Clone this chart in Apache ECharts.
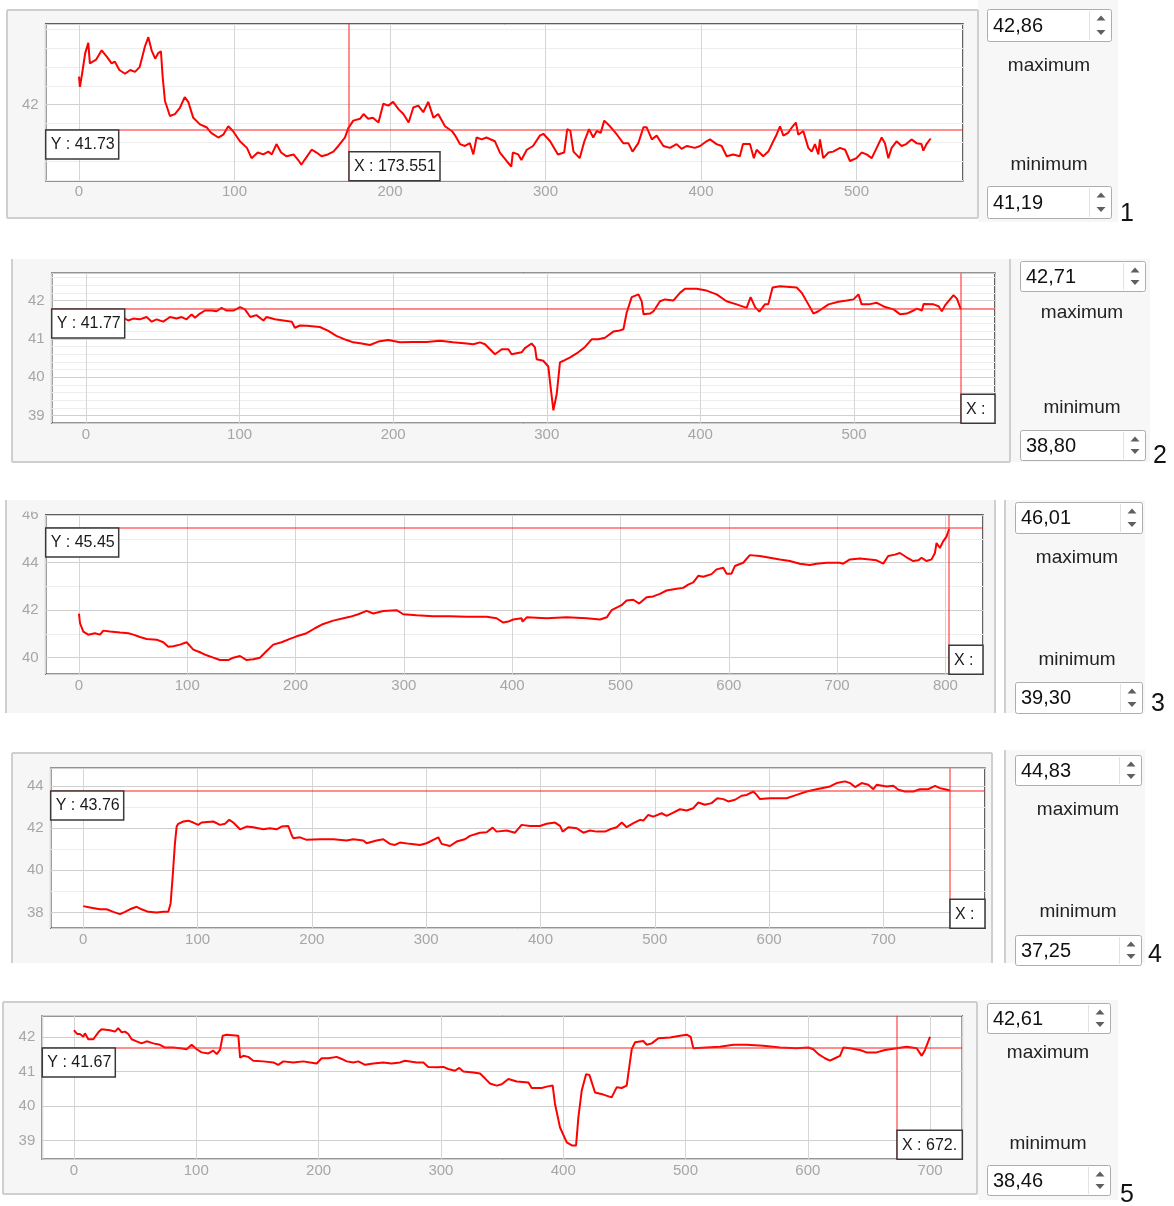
<!DOCTYPE html>
<html>
<head>
<meta charset="utf-8">
<title>Trace panels</title>
<script src="https://cdn.jsdelivr.net/npm/echarts@6/dist/echarts.min.js"></script>
<style>
html, body { margin: 0; padding: 0; background: #fff; }
#main { width: 1174px; height: 1206px; }
</style>
</head>
<body>
<div id="main"></div>
<script>
// traces, [x, value]
const trace1 = [[0,42.30],[0.6,42.19],[2,42.33],[4,42.55],[6,42.66],[7,42.44],[11,42.48],[14.6,42.58],[18,42.51],[21,42.44],[23,42.46],[26,42.37],[29.6,42.33],[33,42.37],[36,42.35],[39,42.40],[42.4,42.62],[44.6,42.72],[46.7,42.58],[49,42.49],[51,42.55],[52.7,42.57],[53.8,42.30],[55.3,42.04],[58.5,41.88],[61.7,41.90],[65,41.97],[68,42.08],[70.3,42.03],[73.5,41.86],[77.8,41.79],[82,41.76],[85,41.70],[89.6,41.65],[92.8,41.68],[96,41.77],[99,41.72],[103.5,41.61],[108,41.54],[111,41.43],[115,41.49],[118.5,41.47],[121.8,41.50],[124,41.47],[127,41.58],[130,41.49],[133.5,41.45],[138,41.47],[141,41.41],[143,41.36],[145,41.41],[149.6,41.52],[152.8,41.49],[156,41.45],[160,41.47],[163.6,41.50],[166.8,41.56],[171,41.65],[173.2,41.75],[176.4,41.83],[180.7,41.85],[183,41.90],[186,41.85],[189,41.86],[192.6,41.81],[195.7,42.01],[199,41.99],[202,42.03],[205.6,41.95],[208.6,41.90],[212,41.81],[215,41.97],[218.2,41.99],[221.4,41.92],[224.6,42.03],[228,41.86],[231,41.90],[235.4,41.77],[239.7,41.72],[242,41.67],[245,41.58],[248.2,41.56],[251.4,41.59],[253.6,41.47],[255.7,41.65],[259,41.63],[262,41.65],[267.5,41.61],[270.7,41.49],[275,41.40],[278,41.34],[279,41.49],[282.5,41.47],[284.5,41.41],[288,41.52],[292,41.56],[296.4,41.67],[298.6,41.69],[303,41.61],[308,41.47],[312,41.49],[314,41.74],[316,41.72],[318,41.50],[322,41.43],[325,41.61],[328,41.74],[330.7,41.65],[333,41.72],[335.5,41.70],[337.8,41.83],[341.5,41.77],[346,41.68],[350,41.59],[353.3,41.59],[356,41.50],[359.7,41.59],[363,41.76],[365,41.76],[368.4,41.63],[371.5,41.67],[375.8,41.56],[380,41.54],[384.3,41.58],[387.5,41.53],[391,41.56],[396,41.54],[399.4,41.56],[403.6,41.61],[405.8,41.63],[410,41.58],[413.3,41.56],[416.5,41.45],[420.7,41.47],[425,41.45],[427,41.58],[431.5,41.58],[434,41.43],[435.8,41.52],[440,41.45],[443.3,41.50],[446.5,41.61],[448.6,41.68],[450.8,41.77],[453,41.67],[456,41.70],[459,41.77],[461,41.81],[462.6,41.68],[465.8,41.72],[469,41.54],[471.2,41.50],[473.3,41.58],[475.5,41.47],[476.5,41.63],[478.6,41.43],[482,41.49],[485,41.50],[489.4,41.54],[492.7,41.52],[495.8,41.40],[500,41.43],[503.3,41.49],[506.5,41.47],[509.8,41.43],[513,41.54],[516.2,41.65],[518.3,41.59],[520.5,41.43],[522.6,41.54],[525.8,41.61],[529,41.56],[532,41.58],[535.4,41.63],[538.6,41.59],[541.8,41.58],[543,41.51],[545,41.58],[547.7,41.64]];

const trace2 = [[0,41.62],[3.7,41.64],[9,41.60],[13.5,41.55],[15.6,41.62],[20,41.51],[23,41.59],[27.5,41.48],[30.8,41.53],[35,41.51],[39.5,41.57],[42.8,41.45],[46,41.51],[50.3,41.45],[54.7,41.57],[59,41.53],[62.3,41.57],[65.5,41.51],[68.8,41.64],[71,41.55],[74.2,41.66],[77.5,41.74],[81.8,41.74],[85,41.72],[88.3,41.81],[91.6,41.74],[96,41.74],[100.3,41.83],[103.5,41.77],[107,41.57],[111,41.62],[115.5,41.48],[117.6,41.57],[123,41.51],[128.5,41.48],[134,41.45],[136,41.29],[139.3,41.35],[143.7,41.34],[152.3,41.31],[157.8,41.21],[163,41.08],[169.7,40.97],[174,40.91],[179.5,40.88],[184.9,40.84],[190.3,40.93],[196.8,40.97],[204.4,40.91],[213,40.92],[221.8,40.92],[230.5,40.95],[239,40.91],[247.8,40.88],[252.2,40.86],[256.5,40.91],[259.8,40.86],[263,40.73],[266.3,40.60],[270.7,40.73],[275,40.73],[277.1,40.60],[283.6,40.65],[285.8,40.76],[290.1,40.88],[292.3,40.78],[293.4,40.47],[297.7,40.43],[301,40.28],[302.5,39.74],[304.3,39.14],[306.5,39.57],[308.6,40.39],[310.8,40.43],[315.2,40.52],[320.5,40.65],[324.9,40.79],[329.2,40.99],[333.6,40.99],[337.9,41.03],[343.3,41.19],[346.6,41.21],[349.9,41.25],[352,41.68],[355.3,42.09],[359.7,42.16],[361.8,41.98],[363,41.64],[367.2,41.66],[369.5,41.72],[373.7,41.98],[377,42.03],[382.4,42.00],[386.7,42.20],[390,42.31],[397.5,42.31],[404,42.26],[410.6,42.16],[417,41.98],[423.6,41.90],[430.1,41.81],[432.7,42.09],[435.6,41.83],[438.4,41.71],[442,41.90],[444.2,41.90],[447,42.34],[451.8,42.37],[462.7,42.34],[466,42.20],[470.3,41.90],[473.6,41.66],[476.8,41.72],[483.4,41.90],[489.9,41.97],[495.3,42.00],[499.7,42.03],[502.9,42.16],[505,41.90],[509.5,41.90],[514.9,41.94],[520.3,41.83],[525.8,41.77],[530.1,41.64],[534.4,41.66],[537.7,41.72],[541,41.79],[544.2,41.74],[545.3,41.91],[551.8,41.90],[555.1,41.85],[557.2,41.72],[559.4,41.88],[564.8,42.14],[567,42.05],[569.6,41.77]];

const trace3 = [[0,41.86],[1,41.45],[4,41.10],[8.6,40.97],[14.8,41.03],[19.4,40.97],[22.5,41.14],[28.6,41.10],[37.9,41.06],[45.6,41.03],[50.2,40.97],[56.3,40.87],[62.5,40.79],[71.7,40.76],[77.9,40.65],[82.5,40.46],[87.1,40.48],[93.3,40.55],[99.4,40.65],[105.6,40.34],[111.7,40.23],[117.9,40.10],[124,40.00],[130.2,39.90],[137.9,39.90],[142.5,40.00],[148.7,40.07],[154.8,39.90],[161,39.93],[167.1,40.00],[173.3,40.28],[179.4,40.55],[187.1,40.65],[194.8,40.79],[201,40.90],[210.2,41.03],[217.9,41.24],[225.6,41.42],[234.8,41.56],[244.1,41.66],[250.2,41.72],[257.9,41.83],[265.6,41.97],[271.8,41.86],[281,41.97],[293.3,42.00],[299.5,41.83],[311.8,41.79],[327.2,41.75],[342.6,41.75],[357.9,41.72],[376.4,41.72],[385.6,41.66],[391.8,41.48],[396.4,41.52],[401,41.61],[408.7,41.66],[409.6,41.52],[413.4,41.70],[431.8,41.66],[450.3,41.70],[468.8,41.66],[481.1,41.61],[487.3,41.70],[491.8,42.00],[496.4,42.11],[501,42.21],[505.6,42.41],[511.8,42.44],[517.3,42.28],[524.1,42.55],[530.2,42.58],[536.4,42.69],[542.5,42.83],[551.8,42.90],[557.9,42.94],[562.5,43.08],[567.2,43.17],[571.8,43.45],[576.4,43.41],[584.1,43.52],[588.7,43.72],[594.9,43.79],[597.9,43.54],[602.5,43.54],[605.6,43.86],[613.3,44.00],[619.4,44.32],[628.7,44.28],[637.9,44.21],[647.1,44.14],[656.4,44.07],[665.6,43.96],[674.8,43.90],[681,43.96],[690.2,44.00],[702.5,44.00],[705.6,43.96],[711.8,44.14],[721,44.18],[730.3,44.14],[736.4,44.10],[742.6,43.96],[747.2,44.28],[753.3,44.34],[757.9,44.41],[764.1,44.23],[770.3,44.07],[774.9,44.10],[778,44.21],[782.6,44.07],[787.2,44.14],[790.3,44.41],[791.8,44.83],[794.9,44.62],[797.9,44.90],[801,45.10],[803.4,45.42]];

const trace4 = [[0,38.30],[5.8,38.24],[14.6,38.15],[20.4,38.15],[26.2,38.03],[32.1,37.92],[36.5,38.03],[40.8,38.15],[46.7,38.27],[51,38.15],[56.9,38.03],[64.2,38.00],[70,38.03],[74.4,38.03],[76.4,38.43],[78.2,39.70],[80.2,41.28],[81.7,42.07],[83.1,42.20],[87.5,42.31],[91.9,42.35],[96.2,42.26],[100.6,42.15],[103.5,42.26],[113.7,42.31],[119.6,42.15],[124,42.20],[127.7,42.39],[131.2,42.26],[137.1,41.94],[142.9,42.07],[148.7,42.04],[157.5,41.94],[163.3,41.99],[169.1,41.94],[173.5,42.07],[179.3,42.10],[182.3,41.67],[183.7,41.52],[189.6,41.56],[195.4,41.44],[207.1,41.47],[218.7,41.47],[230.4,41.41],[236.2,41.47],[245,41.41],[247.9,41.28],[256.6,41.41],[262.5,41.47],[268.3,41.25],[272.7,41.20],[277,41.31],[285.8,41.25],[294.5,41.20],[300.4,41.28],[306.2,41.44],[310.6,41.56],[313.5,41.25],[320.8,41.15],[326.6,41.36],[333.9,41.47],[338.3,41.63],[347,41.78],[352.9,41.80],[358.1,42.02],[361.6,41.83],[370.4,41.88],[377.7,41.78],[383.5,42.15],[390.8,42.10],[399.5,42.10],[405.4,42.20],[412.7,42.26],[417.1,42.10],[419.4,41.83],[424.4,42.04],[431.7,41.99],[437.5,41.78],[443.3,41.88],[449.2,41.83],[456.5,41.83],[460.8,41.94],[466.7,42.04],[471.1,42.26],[475.4,42.04],[481.3,42.23],[487.1,42.39],[490,42.35],[494.3,42.62],[498.7,42.54],[506,42.70],[510.4,42.58],[516.2,42.73],[522,42.89],[527.9,42.83],[533.7,42.94],[538.1,43.21],[543.9,43.10],[549.7,43.18],[554.7,43.41],[560,43.37],[564.3,43.26],[570.2,43.34],[576,43.53],[580.4,43.57],[586.2,43.73],[589.1,43.57],[592,43.37],[600.8,43.41],[615.4,43.41],[624.1,43.57],[632.9,43.73],[641.6,43.84],[653.3,43.97],[659.1,44.13],[666.4,44.21],[670.8,44.13],[675.2,43.94],[681,44.13],[686.8,44.05],[691.2,43.84],[694.1,44.05],[702.9,43.97],[708.7,44.00],[713.1,43.81],[718.9,43.73],[726.2,43.73],[732,43.84],[739.3,43.84],[745.2,44.00],[749.5,43.89],[753.9,43.84],[758.3,43.78]];

const trace5 = [[0,42.19],[2.7,42.08],[4.9,42.08],[7.6,42.00],[9,42.10],[11.7,41.93],[15.8,41.93],[19.9,42.13],[22.6,42.22],[29.4,42.19],[33.5,42.15],[36.2,42.25],[39,42.13],[41.7,42.15],[44.4,42.08],[47.2,41.93],[51.2,41.87],[55.3,41.81],[59.4,41.87],[64.9,41.81],[70.3,41.77],[74.4,41.69],[81.2,41.69],[86.7,41.67],[92.1,41.64],[96.2,41.77],[100.3,41.64],[104.4,41.55],[109.8,41.52],[113.9,41.60],[116.7,41.50],[119.4,41.62],[121.6,42.03],[124.9,42.06],[134.4,42.03],[135.8,41.40],[138.5,41.45],[142.5,41.42],[146.6,41.31],[154.8,41.29],[163,41.26],[167,41.19],[171.2,41.29],[179.3,41.26],[187.5,41.29],[193,41.26],[198.4,41.23],[202.5,41.38],[208,41.38],[214.8,41.42],[218.9,41.36],[223,41.29],[228.4,41.26],[232.5,41.29],[238,41.19],[244.7,41.23],[252.9,41.26],[259.7,41.23],[266.6,41.26],[270.6,41.31],[280.2,41.26],[285.7,41.26],[289.7,41.13],[296.5,41.12],[302,41.13],[306,41.07],[311.5,41.02],[315,41.10],[318.3,41.00],[326.5,40.97],[332,40.94],[336,40.80],[340.1,40.65],[345.6,40.59],[349.7,40.63],[355.2,40.78],[362,40.71],[371.6,40.68],[374.2,40.52],[382.4,40.52],[386.6,40.56],[391.4,40.59],[393.3,40.06],[397.4,39.38],[402.9,38.95],[407,38.86],[410.5,38.86],[412.4,39.67],[415.1,40.44],[418.7,40.92],[421.4,40.90],[426,40.39],[432.8,40.33],[439.6,40.25],[443.7,40.54],[447.8,40.52],[451.9,40.59],[456,41.64],[458.7,41.84],[465.5,41.88],[468.3,41.77],[472.4,41.81],[477.8,41.96],[487.4,41.98],[495.5,42.03],[501,42.06],[504.2,42.00],[506.4,41.67],[517.3,41.69],[528.2,41.71],[539.1,41.77],[550,41.77],[563.6,41.74],[577.3,41.69],[590.9,41.67],[600.4,41.69],[604.5,41.64],[608.6,41.50],[614,41.38],[618.1,41.31],[622.2,41.38],[626.3,41.45],[629,41.69],[634.4,41.67],[642.6,41.62],[648,41.55],[656.2,41.55],[663,41.62],[672.6,41.67],[680.8,41.71],[689,41.67],[693.1,41.45],[695.8,41.62],[699.9,42.00]];

const traces = [trace1, trace2, trace3, trace4, trace5];

// cursor position in each panel
const crossX = [173.551, 569.6, 803.4, 758.3, 672.8];
const crossY = [41.73, 41.77, 45.45, 43.76, 41.67];

// visible value range (= the spin boxes)
const yMin = [41.19, 38.80, 39.30, 37.25, 38.46];
const yMax = [42.86, 42.71, 46.01, 44.83, 42.61];
const maxText = ['42,86', '42,71', '46,01', '44,83', '42,61'];
const minText = ['41,19', '38,80', '39,30', '37,25', '38,46'];
const xMin = [-21.4, -22.3, -30.7, -28.5, -25.9];
const xMax = [568.5, 591.8, 834.7, 788.9, 726.3];
const yStep = [1, 1, 2, 2, 1];       // labelled lines
const yMinor = [5, 5, 2, 2, 0];      // light lines between them
const panelNames = ['1', '2', '3', '4', '5'];

// page layout, px
const layout = [
  { plot: [45.7, 24, 917.3, 156.7], frame: [7, 10, 971, 208], edges: 'tlrb', sep: false,
    spin: [978, 0, 140, 222], box: [987, 124, 9, 186, 32], label: [1049, 66, 165], num: [1127, 214] },
  { plot: [51.7, 273.3, 943.3, 150], frame: [12, 259, 998, 203], edges: 'lrb', sep: false,
    spin: [1010, 259, 140, 203], box: [1020, 125, 261, 430, 30], label: [1082, 313, 408], num: [1160, 456] },
  { plot: [45.7, 515, 937.3, 159.3], frame: [6, 500, 989, 213], edges: 'lr', sep: true,
    spin: [1005, 500, 140, 213], box: [1015, 127, 502, 682, 31], label: [1077, 558, 660], num: [1158, 704] },
  { plot: [50.7, 768.3, 934.3, 160], frame: [12, 753, 980, 210], edges: 'tlr', sep: true,
    spin: [1005, 750, 140, 213], box: [1015, 126, 755, 935, 30], label: [1078, 810, 912], num: [1155, 955] },
  { plot: [42.3, 1015.7, 920, 143.6], frame: [3, 1002, 974, 192], edges: 'tlrb', sep: false,
    spin: [978, 1000, 140, 200], box: [987, 123, 1003, 1165, 30], label: [1048, 1053, 1144], num: [1127, 1195] }
];

const FONT = 'Liberation Sans';
const frameBg = '#f6f6f6';
const cursorRed = '#ff2020';

const chart = echarts.init(document.getElementById('main'));

const grids = [], xAxes = [], yAxes = [], series = [];
traces.forEach((trace, i) => {
  const p = layout[i].plot;
  grids.push({
    left: p[0], top: p[1], width: p[2], height: p[3],
    show: true, backgroundColor: '#fff', borderColor: '#2e2e2e', borderWidth: 1.5
  });
  xAxes.push({
    type: 'value', gridIndex: i, min: xMin[i], max: xMax[i],
    minInterval: 100, maxInterval: 100,
    axisLine: { show: false }, axisTick: { show: false },
    axisLabel: {
      color: '#a6a6a6', fontSize: 15, fontFamily: FONT, margin: 4,
      formatter: v => (Math.abs(v / 100 - Math.round(v / 100)) < 1e-6 ? String(Math.round(v)) : '')
    },
    splitLine: { show: true, lineStyle: { color: '#d6d6d6', width: 1 } }
  });
  yAxes.push({
    type: 'value', gridIndex: i, min: yMin[i], max: yMax[i],
    minInterval: yStep[i], maxInterval: yStep[i],
    axisLine: { show: false }, axisTick: { show: false },
    axisLabel: {
      color: '#a6a6a6', fontSize: 15, fontFamily: FONT, margin: 7,
      formatter: v => (Math.abs(v / yStep[i] - Math.round(v / yStep[i])) < 1e-6 ? String(Math.round(v)) : '')
    },
    splitLine: { show: true, lineStyle: { color: '#cfcfcf', width: 1 } },
    minorTick: { show: false, splitNumber: yMinor[i] || 1 },
    minorSplitLine: { show: yMinor[i] > 0, lineStyle: { color: '#ededed', width: 1 } }
  });
  series.push({
    type: 'line', xAxisIndex: i, yAxisIndex: i, data: trace,
    symbol: 'none', showSymbol: false, animation: false,
    lineStyle: { color: '#ff0000', width: 2 },
    itemStyle: { color: '#ff0000' }
  });
});

chart.setOption({
  animation: false,
  backgroundColor: '#fff',
  grid: grids, xAxis: xAxes, yAxis: yAxes, series: series
});

// widgets around the plots
const els = [];
function rect(x, y, w, h, style, z) {
  els.push({ type: 'rect', z: z, silent: true, shape: { x: x, y: y, width: w, height: h }, style: style });
}
function line(x1, y1, x2, y2, stroke, w, z) {
  els.push({ type: 'line', z: z, silent: true, shape: { x1: x1, y1: y1, x2: x2, y2: y2 }, style: { stroke: stroke, lineWidth: w } });
}
function text(str, x, y, size, fill, align, z, maxW) {
  const style = { text: str, x: x, y: y, fontSize: size, fontFamily: FONT, fill: fill, align: align, verticalAlign: 'middle' };
  if (maxW) { style.width = maxW; style.overflow = 'truncate'; style.ellipsis = ''; }
  els.push({ type: 'text', z: z, silent: true, style: style });
}
function spinBox(x, w, y, h, str) {
  els.push({ type: 'rect', z: -5, silent: true, shape: { x: x + 0.5, y: y + 0.5, width: w, height: h, r: 2 },
    style: { fill: '#fff', stroke: '#adadad', lineWidth: 1 } });
  line(x + w - 21.5, y + 2, x + w - 21.5, y + h - 1, '#e2e2e2', 1, -4);
  const cx = x + w - 10;
  els.push({ type: 'polygon', z: -4, silent: true,
    shape: { points: [[cx - 4.5, y + 11.5], [cx + 4.5, y + 11.5], [cx, y + 6.5]] }, style: { fill: '#5f5f5f' } });
  els.push({ type: 'polygon', z: -4, silent: true,
    shape: { points: [[cx - 4.5, y + h - 11], [cx + 4.5, y + h - 11], [cx, y + h - 6]] }, style: { fill: '#5f5f5f' } });
  text(str, x + 6, y + h / 2 + 1, 20, '#111', 'left', -4);
}

layout.forEach((L, i) => {
  const f = L.frame, s = L.spin, b = L.box, p = L.plot;
  const right = f[0] + f[2], bottom = f[1] + f[3];
  rect(s[0], s[1], s[2], s[3], { fill: '#f7f7f7' }, -10);
  rect(f[0], f[1], f[2], f[3], { fill: frameBg }, -10);
  const ec = '#cfcfcf';
  if (L.edges.includes('t')) line(f[0], f[1], right, f[1], ec, 2, -9);
  if (L.edges.includes('b')) line(f[0], bottom, right, bottom, ec, 2, -9);
  if (L.edges.includes('l')) line(f[0], f[1], f[0], bottom, ec, 2, -9);
  if (L.edges.includes('r')) line(right, f[1], right, bottom, ec, 2, -9);
  if (L.sep) line(s[0], s[1], s[0], s[1] + s[3], ec, 2, -9);

  spinBox(b[0], b[1], b[2], b[4], maxText[i]);
  spinBox(b[0], b[1], b[3], b[4], minText[i]);
  text('maximum', L.label[0], L.label[1], 19, '#222', 'center', -4);
  text('minimum', L.label[0], L.label[2], 19, '#222', 'center', -4);
  text(panelNames[i], L.num[0], L.num[1], 25, '#111', 'center', -4);

  // cursor cross and read-outs, placed through the axes
  const cy = Math.round(chart.convertToPixel({ gridIndex: i }, [0, crossY[i]])[1]);
  const cx = Math.round(chart.convertToPixel({ gridIndex: i }, [crossX[i], yMin[i]])[0]);
  const plotRight = p[0] + p[2], plotBottom = p[1] + p[3];
  rect(p[0], cy - 0.5, p[2], 1, { fill: cursorRed }, 5);
  rect(cx - 0.5, p[1], 1, p[3], { fill: cursorRed }, 5);
  rect(p[0], cy, 73, 29, { fill: '#fff', stroke: '#3a3a3a', lineWidth: 1.5 }, 20);
  text('Y : ' + crossY[i].toFixed(2), p[0] + 5, cy + 15, 16, '#1a1a1a', 'left', 21);
  const bw = Math.min(91, plotRight - cx);
  rect(cx, plotBottom - 29, bw, 29, { fill: '#fff', stroke: '#3a3a3a', lineWidth: 1.5 }, 20);
  text('X : ' + crossX[i], cx + 5, plotBottom - 14, 16, '#1a1a1a', 'left', 21, bw - 5);
});
// top of panel 3 is cut through the first label
rect(7, 500, 38, 11.5, { fill: frameBg }, 25);

chart.setOption({ graphic: { elements: els } });
</script>
</body>
</html>
